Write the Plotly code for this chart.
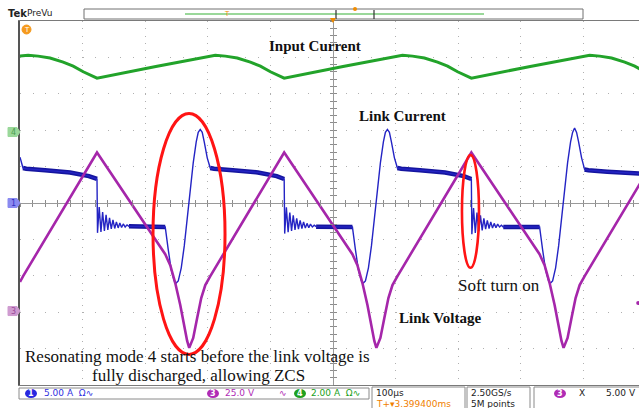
import plotly.graph_objects as go

# ---------------- data ----------------
# time in microseconds relative to screen centre (100 us/div)
# Channel 1 (blue) - link current, A (5 A/div)
ch1_time_us = [
    -500, -495.2, -490, -460, -420, -390,
    -377, -376.2, -373.5, -370.7, -368, -365.2, -362.5, -359.7, -357, -354.2,
    -351.5, -348.7, -346, -343.2, -340.5, -337.7, -335, -332, -329, -326,
    -295,
    -268, -263.2, -258.4, -253.6, -250.4, -247.2, -242.4, -237.6, -232.9,
    -228.1, -223.3, -218.5, -215.3, -212.1, -208.9, -205.7, -200.9, -196.1,
    -190, -160, -120, -90,
    -78, -77.2, -74.5, -71.7, -69, -66.2, -63.5, -60.7, -58, -55.2,
    -52.5, -49.7, -47, -44.2, -41.5, -38.7, -36, -33, -30, -27,
    4,
    31, 35.8, 40.6, 45.4, 48.6, 51.8, 56.6, 61.4, 66.1,
    70.9, 75.7, 80.5, 83.7, 86.9, 90.1, 93.3, 98.1, 102.9,
    109, 139, 179, 209,
    221, 221.8, 224.5, 227.3, 230, 232.8, 235.5, 238.3, 241, 243.8,
    246.5, 249.3, 252, 254.8, 257.5, 260.3, 263, 266, 269, 272,
    303,
    330, 334.8, 339.6, 344.4, 347.6, 350.8, 355.6, 360.4, 365.1,
    369.9, 374.7, 379.5, 382.7, 385.9, 389.1, 392.3, 397.1, 401.9,
    408, 438, 478, 489,
]
ch1_current_a = [
    6.3, 4.8, 4.7, 4.5, 4.2, 3.7,
    3.3, -4.1, -0.55, -3.97, -1.23, -3.84, -1.64, -3.7, -2.05, -3.56,
    -2.33, -3.5, -2.6, -3.42, -2.74, -3.36, -2.88, -3.3, -3.0, -3.2,
    -3.2,
    -3.3, -6.4, -9.2, -10.7, -11.0, -10.7, -8.9, -5.9, -2.1,
    1.8, 5.5, 8.4, 9.7, 10.1, 9.7, 8.4, 6.2, 4.8,
    4.7, 4.5, 4.2, 3.7,
    3.3, -4.2, -0.6, -4.0, -1.3, -3.85, -1.7, -3.7, -2.1, -3.6,
    -2.4, -3.5, -2.6, -3.45, -2.8, -3.4, -2.9, -3.3, -3.05, -3.25,
    -3.25,
    -3.3, -6.4, -9.2, -10.7, -11.0, -10.7, -8.9, -5.9, -2.1,
    1.8, 5.5, 8.4, 9.7, 10.1, 9.7, 8.4, 6.2, 4.8,
    4.7, 4.5, 4.2, 3.7,
    3.3, -4.3, -0.7, -4.1, -1.3, -3.9, -1.7, -3.75, -2.1, -3.6,
    -2.4, -3.5, -2.6, -3.45, -2.8, -3.4, -2.9, -3.3, -3.05, -3.3,
    -3.3,
    -3.3, -6.4, -9.2, -10.7, -11.0, -10.7, -8.9, -5.9, -2.1,
    1.8, 5.5, 8.4, 9.7, 10.3, 9.7, 8.4, 6.2, 4.6,
    4.5, 4.3, 4.1, 4.05,
]
# flat (noisy, thick) stretches of the link current
ch1_band_windows_us = [(-495.2, -377), (-326, -268), (-196.1, -78),
                       (-27, 31), (102.9, 221), (272, 330), (401.9, 489)]

# Channel 4 (green) - input current, A (2 A/div)
ch4_time_us = [-500, -487, -471, -452, -431, -415, -399, -388, -377, -283,
               -188, -172, -153, -132, -116, -100, -89, -78, 16,
               111, 127, 146, 167, 183, 199, 210, 221, 315,
               410, 426, 445, 466, 482, 498]
ch4_current_a = [4.18, 4.22, 4.17, 4.07, 3.84, 3.62, 3.31, 3.12, 2.96, 3.60,
                 4.22, 4.17, 4.07, 3.84, 3.62, 3.31, 3.12, 2.96, 3.60,
                 4.22, 4.17, 4.07, 3.84, 3.62, 3.31, 3.12, 2.96, 3.60,
                 4.22, 4.17, 4.07, 3.84, 3.62, 3.31]

# Channel 3 (purple) - link voltage, V (25 V/div)
ch3_time_us = [-500, -495, -377,
               -268, -260, -252, -244, -237.6, -233, -229.7, -223.3, -217, -210.5, -204, -196,
               -78,
               31, 39, 47, 55, 61.4, 66, 69.3, 75.7, 82, 88.5, 95, 103,
               221,
               330, 338, 346, 354, 360.4, 365, 368.3, 374.7, 381, 387.5, 394, 402,
               520]
ch3_voltage_v = [20.0, 24.0, 108.9,
                 39.0, 31.5, 19.2, 4.1, -11.0, -20.5, -25.3, -18.5, -4.8, 8.9, 17.8, 24.0,
                 108.9,
                 39.0, 31.5, 19.2, 4.1, -11.0, -20.5, -25.3, -18.5, -4.8, 8.9, 17.8, 24.0,
                 108.9,
                 39.0, 31.5, 19.2, 4.1, -11.0, -20.5, -25.3, -18.5, -4.8, 8.9, 17.8, 24.0,
                 108.9]

cursor_time_us = [487.5]
cursor_voltage_v = [5.5]

X_RANGE = [-500, 488.8]
CH1_RANGE = [-25, 25]        # ground at centre
CH4_RANGE = [-13.9, 6.1]     # ground marker 1.95 div above centre
CH3_RANGE = [-50.8, 199.2]   # ground marker 2.97 div below centre

BLUE_BAND = "#15159f"
BLUE = "#2424c4"
GREEN = "#22a32a"
PURPLE = "#a526aa"
RED = "#ff1414"
GRID = "#b0b0b0"
SERIF = "Liberation Serif"
SANS = "DejaVu Sans"

W, H = 639, 408
ML, MR, MT, MB = 20, 0, 21, 23
PW, PH = W - ML - MR, H - MT - MB


def px(x):
    return (x - ML) / PW


def py(y):
    return (H - MB - y) / PH


# ---------------- figure ----------------
fig = go.Figure()

band_x, band_y = [], []
for lo, hi in ch1_band_windows_us:
    for t, v in zip(ch1_time_us, ch1_current_a):
        if lo <= t <= hi:
            band_x.append(t)
            band_y.append(v)
    band_x.append(None)
    band_y.append(None)

fig.add_trace(go.Scatter(x=band_x, y=band_y, mode="lines", xaxis="x", yaxis="y",
                         line=dict(color=BLUE_BAND, width=4.5), hoverinfo="skip",
                         showlegend=False))
fig.add_trace(go.Scatter(x=ch1_time_us, y=ch1_current_a, mode="lines", xaxis="x", yaxis="y",
                         line=dict(color=BLUE, width=1.4), hoverinfo="skip",
                         showlegend=False))
fig.add_trace(go.Scatter(x=ch4_time_us, y=ch4_current_a, mode="lines", xaxis="x", yaxis="y2",
                         line=dict(color=GREEN, width=3), hoverinfo="skip",
                         showlegend=False))
fig.add_trace(go.Scatter(x=ch3_time_us, y=ch3_voltage_v, mode="lines", xaxis="x", yaxis="y3",
                         line=dict(color=PURPLE, width=2.6), hoverinfo="skip",
                         showlegend=False))
fig.add_trace(go.Scatter(x=cursor_time_us, y=cursor_voltage_v, mode="markers", xaxis="x",
                         yaxis="y3", marker=dict(color=PURPLE, size=4), hoverinfo="skip",
                         showlegend=False))
# empty traces that make the centre-line tick axes render
fig.add_trace(go.Scatter(x=[None], y=[None], xaxis="x2", yaxis="y4", showlegend=False))
fig.add_trace(go.Scatter(x=[None], y=[None], xaxis="x3", yaxis="y5", showlegend=False))

tick_common = dict(showticklabels=False, showgrid=False, zeroline=False, showline=False,
                   tickcolor="#8c8c8c", ticklen=3, tickwidth=1)

fig.update_layout(
    width=W, height=H,
    margin=dict(l=ML, r=MR, t=MT, b=MB),
    paper_bgcolor="white", plot_bgcolor="white",
    showlegend=False,
    xaxis=dict(range=X_RANGE, dtick=100, tick0=0, showticklabels=False,
               showgrid=True, gridcolor=GRID, gridwidth=1, griddash="1px,6.28px",
               zeroline=True, zerolinecolor="#9a9a9a", zerolinewidth=1,
               showline=True, linecolor="#7a7a7a", linewidth=1, mirror=True,
               ticks="", fixedrange=True),
    yaxis=dict(range=CH1_RANGE, dtick=5, tick0=0, showticklabels=False,
               showgrid=True, gridcolor=GRID, gridwidth=1, griddash="1px,11.52px",
               zeroline=True, zerolinecolor="#9a9a9a", zerolinewidth=1,
               showline=True, linecolor="#555555", linewidth=1.5,
               ticks="", fixedrange=True),
    yaxis2=dict(range=CH4_RANGE, overlaying="y", anchor="x", visible=False),
    yaxis3=dict(range=CH3_RANGE, overlaying="y", anchor="x", visible=False),
    xaxis2=dict(range=X_RANGE, overlaying="x", anchor="free", position=0.5, side="bottom",
                dtick=20, tick0=0, ticks="outside", **tick_common),
    xaxis3=dict(range=X_RANGE, overlaying="x", anchor="free", position=0.5, side="bottom",
                dtick=20, tick0=0, ticks="inside", **tick_common),
    yaxis4=dict(range=CH1_RANGE, overlaying="y", anchor="free", position=px(333), side="left",
                dtick=1, tick0=0, ticks="outside", **tick_common),
    yaxis5=dict(range=CH1_RANGE, overlaying="y", anchor="free", position=px(333), side="left",
                dtick=1, tick0=0, ticks="inside", **tick_common),
)

# red call-out ellipses (blue-channel coordinates)
fig.add_shape(type="circle", xref="x", yref="y", x0=-287.5, x1=-172.5, y0=-20.8, y1=12.3,
              line=dict(color=RED, width=3))
fig.add_shape(type="circle", xref="x", yref="y", x0=206.0, x1=233.2, y0=-8.9, y1=6.6,
              line=dict(color=RED, width=2.6))


def note(x, y, text, size, color="#111111", family=SERIF, xanchor="center", xref="paper",
         yref="paper"):
    fig.add_annotation(x=x, y=y, xref=xref, yref=yref, text=text, showarrow=False,
                       xanchor=xanchor, yanchor="middle", align="left",
                       font=dict(family=family, size=size, color=color),
                       borderpad=0)


# channel ground markers on the left edge
markers = [("y2", "4", "#9ad89a", "#4f9f4f"), ("y", "1", "#8a8af0", "#3030c0"),
           ("y3", "3", "#cf9bd0", "#9a4a9a")]
for yref, label, fill, tcol in markers:
    fig.add_shape(type="path", xref="paper", yref=yref, xsizemode="pixel", ysizemode="pixel",
                  xanchor=0, yanchor=0, path="M -12,-4.5 L -3,-4.5 L 0,0 L -3,4.5 L -12,4.5 Z",
                  fillcolor=fill, line=dict(color=fill, width=1))
    note(px(13.5), 0, label, 8, color=tcol, family=SANS, yref=yref)

# trigger marker (orange T) at top left
fig.add_shape(type="circle", xref="paper", yref="paper", x0=px(22), x1=px(31), y0=py(34),
              y1=py(25), fillcolor="#f59a1e", line=dict(color="#f59a1e", width=1))
note(px(26.5), py(29.5), "T", 7, color="white", family=SANS)

# text labels
labels = [
    ("<b>Input Current</b>", 315, 46, 15),
    ("<b>Link Current</b>", 402, 116, 15),
    ("<b>Link Voltage</b>", 440, 318, 15),
    ("Soft turn on", 499, 285, 17),
    ("Resonating mode 4 starts before the link voltage is", 197, 356, 17),
    ("fully discharged, allowing ZCS", 198, 375, 17),
]
for text, xc, yc, size in labels:
    note(px(xc), py(yc), text, size)

# ---------------- top strip (Tek PreVu record bar) ----------------
note(px(7), py(13), "<b>Tek</b>", 10, color="#222222", family=SANS, xanchor="left")
note(px(26), py(13), "PreVu", 9, color="#222222", family=SANS, xanchor="left")
fig.add_shape(type="rect", xref="paper", yref="paper", x0=px(84), x1=px(583), y0=py(19),
              y1=py(9), line=dict(color="#707070", width=1), fillcolor="white")
fig.add_shape(type="line", xref="paper", yref="paper", x0=px(185), x1=px(484), y0=py(14),
              y1=py(14), line=dict(color="#9ad89a", width=2))
for xb in (336, 374):
    fig.add_shape(type="line", xref="paper", yref="paper", x0=px(xb), x1=px(xb), y0=py(10),
                  y1=py(19), line=dict(color="#333333", width=1.2))
fig.add_shape(type="circle", xref="paper", yref="paper", x0=px(353), x1=px(357), y0=py(11),
              y1=py(7), fillcolor="#f08c00", line=dict(color="#f08c00", width=0))
note(px(227), py(14), "T", 7, color="#f08c00", family=SANS)
fig.add_shape(type="path", xref="paper", yref="paper", xsizemode="pixel", ysizemode="pixel",
              xanchor=px(333), yanchor=1, path="M -3,3 L 3,3 L 0,-2 Z",
              fillcolor="#f08c00", line=dict(color="#f08c00", width=0))


# ---------------- bottom status bar ----------------
def box(x0, x1, y0, y1):
    fig.add_shape(type="rect", xref="paper", yref="paper", x0=px(x0), x1=px(x1), y0=py(y1),
                  y1=py(y0), line=dict(color="#8a8a8a", width=1), fillcolor="white")


def txt(x, y, s, color, size=9, anchor="left", bold=False):
    note(px(x), py(y), ("<b>%s</b>" % s) if bold else s, size, color=color, family=SANS,
         xanchor=anchor)


def badge(x, y, s, color):
    fig.add_shape(type="circle", xref="paper", yref="paper", x0=px(x - 6), x1=px(x + 6),
                  y0=py(y + 4.5), y1=py(y - 4.5), fillcolor=color, line=dict(color=color, width=0))
    txt(x, y, s, "white", size=8, anchor="center", bold=True)


box(19, 369, 388, 399)
box(372, 465, 387, 409)
box(467, 530, 387, 409)
box(534, 660, 387, 409)
badge(31, 393.5, "1", "#2828e0")
txt(43, 393.5, "5.00 A  Ω∿", "#3030e0")
badge(213, 393.5, "3", "#b02cb5")
txt(224, 393.5, "25.0 V", "#b02cb5")
txt(278, 393.5, "∿", "#b02cb5")
badge(300, 393.5, "4", "#20a020")
txt(310, 393.5, "2.00 A  Ω∿", "#20a020")
txt(375, 393.5, "100µs", "#222222")
txt(375, 403.5, "T+▾3.399400ms", "#f08000")
txt(470, 393.5, "2.50GS/s", "#222222")
txt(470, 403.5, "5M points", "#222222")
badge(560, 393.5, "3", "#b02cb5")
txt(578, 393.5, "X", "#222222")
txt(605, 393.5, "5.00 V", "#222222")

fig.write_html("out.html")
